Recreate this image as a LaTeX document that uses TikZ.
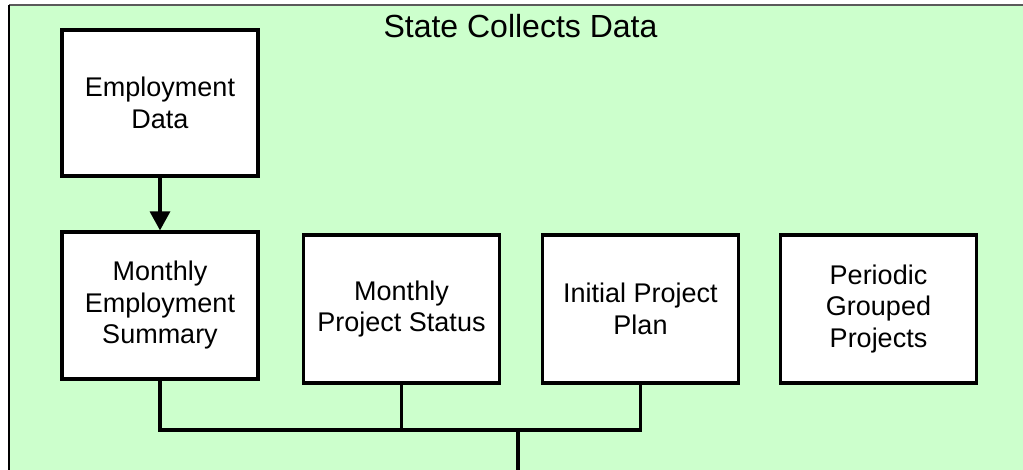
\documentclass[tikz,border=0pt]{standalone}
\usepackage{fontspec}
\setmainfont{Liberation Sans}
\usetikzlibrary{arrows.meta}
\definecolor{bggreen}{RGB}{204,255,204}
\definecolor{framegray}{RGB}{90,90,90}
\begin{document}
\begin{tikzpicture}[x=1pt,y=-1pt,
  box/.style={draw=black,line width=3.2pt,fill=white,minimum width=196pt,minimum height=147pt,
    inner sep=0pt,align=center,font=\fontsize{27}{31.5}\selectfont},
  conn/.style={draw=black,line width=3.2pt},
]
\useasboundingbox (0,0) rectangle (1023,470);
\fill[bggreen] (9,5) rectangle (1040,490);
\draw[framegray,line width=2pt] (9,5) -- (1040,5);
\draw[black,line width=2pt] (9,5) -- (9,490);
\node[font=\fontsize{32}{38}\selectfont,anchor=base] (title) at (520.5,38) {State Collects Data};
\node[box,minimum height=146pt] (ed) at (160,103) {Employment\\Data};
\node[box] (mes) at (160,305.5) {Monthly\\Employment\\Summary};
\node[box,minimum height=148pt] (mps) at (401.5,309) {Monthly\\Project Status};
\node[box,minimum height=148pt] (ipp) at (640.5,309) {Initial Project\\Plan};
\node[box,minimum height=148pt] (pgp) at (878.5,309) {Periodic\\Grouped\\Projects};
\draw[conn,-{Triangle[length=19pt,width=20pt]}] (ed.south) -- (mes.north);
\coordinate (busL) at (160,430);
\coordinate (busR) at (640.5,430);
\coordinate (busM) at (401.5,430);
\coordinate (busOut) at (518,430);
\coordinate (outEnd) at (518,480);
\draw[conn] (mes.south) -- (busL) -- (busR) -- (ipp.south);
\draw[conn] (mps.south) -- (busM);
\draw[conn] (busOut) -- (outEnd);
\end{tikzpicture}
\end{document}
